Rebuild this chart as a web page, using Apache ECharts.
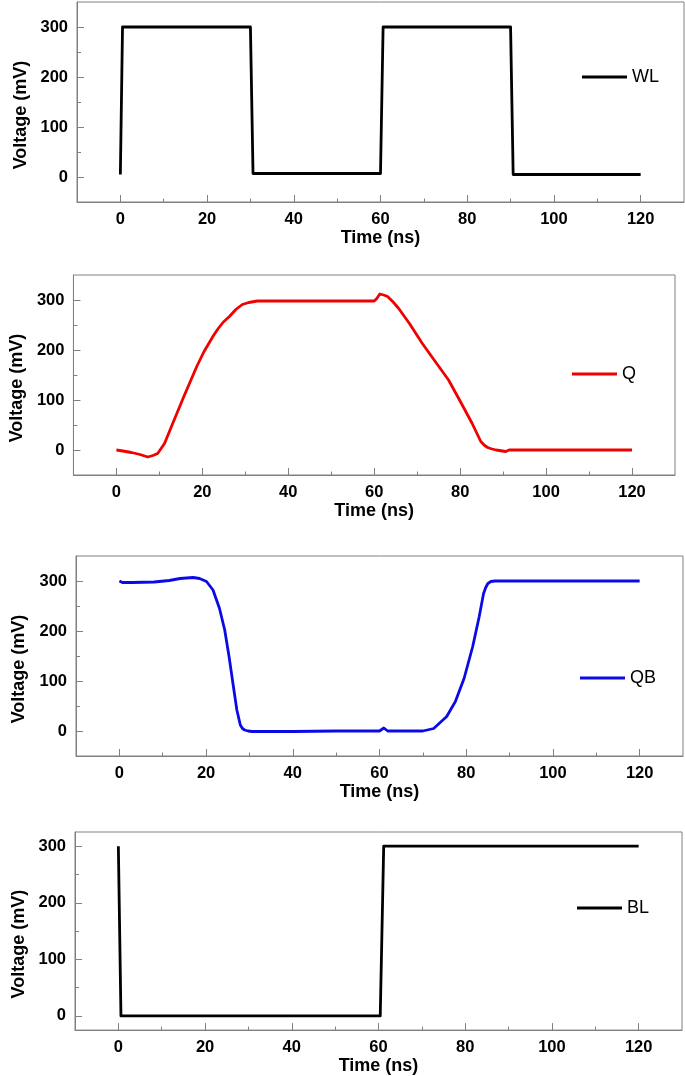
<!DOCTYPE html>
<html><head><meta charset="utf-8">
<script src="https://cdn.jsdelivr.net/npm/echarts@6/dist/echarts.min.js"></script>
<style>html,body{margin:0;padding:0;background:#fff}#c{width:685px;height:1076px}</style>
</head><body><div id="c"></div>
<script>
// ---- data ----
const wlTime = [0, 0.5, 30, 30.6, 60, 60.6, 90, 90.6, 120];
const wlVolt = [5, 300, 300, 7, 7, 300, 300, 5, 5];

const qTime = [0, 1.5, 3.5, 5.5, 7.3, 8.5, 9.6, 11.2, 13.1, 15.7, 18.7, 20.4, 21.5, 22.6, 23.7, 24.9, 26.3, 27.8, 29.3, 30.8, 32.8, 40, 50, 60, 60.6, 61.3, 62.2, 63.1, 64.3, 65.7, 68.2, 71.2, 74.2, 77.3, 80.3, 82.8, 84.8, 85.7, 86.4, 87.4, 88.4, 90.6, 91.4, 100, 120];
const qVolt = [0, -2, -5, -9, -14, -11, -7, 13, 53, 107, 167, 197, 213, 229, 243, 256, 267, 281, 291, 295, 298, 298, 298, 298, 303, 312, 310, 307, 297, 283, 253, 213, 177, 140, 93, 53, 17, 9, 5, 2, 0, -3, 0, 0, 0];

const qbTime = [0, 0.7, 2.9, 8, 11.5, 14, 17, 18.5, 20.1, 21.6, 23.1, 24.3, 25.3, 26.3, 27.1, 27.9, 28.4, 28.9, 29.7, 30.6, 40, 50, 60, 61, 61.9, 70, 72.5, 75.5, 77.5, 79.5, 81.5, 83, 84, 84.5, 85, 85.7, 86.6, 90, 120];
const qbVolt = [300, 297, 297, 298, 301, 305, 307, 305, 299, 282, 245, 202, 149, 89, 42, 12, 5, 2, 0, -1, -1, 0, 0, 6, 0, 0, 5, 29, 59, 105, 169, 229, 275, 287, 295, 299, 300, 300, 300];

const blTime = [0, 0.6, 60.4, 61.2, 120];
const blVolt = [300, 0, 0, 300, 300];

const seriesNames = ['WL', 'Q', 'QB', 'BL'];
const xTickLabels = [0, 20, 40, 60, 80, 100, 120];
const xMinorTicks = [10, 30, 50, 70, 90, 110];
const yTickLabels = [0, 100, 200, 300];
const yMinorTicks = [50, 150, 250];
const xName = 'Time (ns)';
const yName = 'Voltage (mV)';

// ---- layout / style ----
const FONT = 'Liberation Sans, Arial, sans-serif';
const AXIS_COLOR = '#808080';
const panels = [
  {time: wlTime, volt: wlVolt, color: '#000000', left: 77, top: 2,   yMin: -50, yMax: 350, nameGap: 45, legLeft: 582, legY: 77},
  {time: qTime,  volt: qVolt,  color: '#f00000', left: 68, top: 275, yMin: -50, yMax: 350, nameGap: 46, legLeft: 572, legY: 374},
  {time: qbTime, volt: qbVolt, color: '#0a0ae6', left: 76, top: 556, yMin: -50, yMax: 350, nameGap: 48, legLeft: 580, legY: 678},
  {time: blTime, volt: blVolt, color: '#000000', left: 75, top: 832, yMin: -25, yMax: 325, nameGap: 47, legLeft: 577, legY: 908}
];

const grid = [], xAxis = [], yAxis = [], series = [], legend = [];
panels.forEach((p, i) => {
  grid.push({left: p.left, top: p.top, width: 607, height: 200, show: true,
             borderColor: AXIS_COLOR, borderWidth: 1, backgroundColor: 'transparent'});
  const labelStyle = {fontFamily: FONT, fontWeight: 'bold', fontSize: 16.5, color: '#000'};
  // main x axis
  xAxis.push({type: 'value', gridIndex: i, position: 'bottom', min: -10, max: 130,
    name: xName, nameLocation: 'middle', nameGap: 22,
    nameTextStyle: {fontFamily: FONT, fontWeight: 'bold', fontSize: 18, color: '#000'},
    axisLine: {show: true, onZero: false, lineStyle: {color: AXIS_COLOR, width: 1}},
    axisTick: {show: true, inside: true, length: 7, customValues: xTickLabels, lineStyle: {color: AXIS_COLOR}},
    axisLabel: Object.assign({show: true, margin: 9, customValues: xTickLabels}, labelStyle),
    splitLine: {show: false}});
  // minor x ticks
  xAxis.push({type: 'value', gridIndex: i, position: 'bottom', min: -10, max: 130,
    axisLine: {show: false, onZero: false},
    axisTick: {show: true, inside: true, length: 3.5, customValues: xMinorTicks, lineStyle: {color: AXIS_COLOR}},
    axisLabel: {show: false}, splitLine: {show: false}});
  // main y axis
  yAxis.push({type: 'value', gridIndex: i, position: 'left', min: p.yMin, max: p.yMax,
    name: yName, nameLocation: 'middle', nameGap: p.nameGap,
    nameTextStyle: {fontFamily: FONT, fontWeight: 'bold', fontSize: 18, color: '#000', padding: [0, 26, 0, 0]},
    axisLine: {show: true, onZero: false, lineStyle: {color: AXIS_COLOR, width: 1}},
    axisTick: {show: true, inside: true, length: 7, customValues: yTickLabels, lineStyle: {color: AXIS_COLOR}},
    axisLabel: Object.assign({show: true, margin: 9, customValues: yTickLabels}, labelStyle),
    splitLine: {show: false}});
  // minor y ticks
  yAxis.push({type: 'value', gridIndex: i, position: 'left', min: p.yMin, max: p.yMax,
    axisLine: {show: false, onZero: false},
    axisTick: {show: true, inside: true, length: 4, customValues: yMinorTicks, lineStyle: {color: AXIS_COLOR}},
    axisLabel: {show: false}, splitLine: {show: false}});

  series.push({type: 'line', name: seriesNames[i], xAxisIndex: 2 * i, yAxisIndex: 2 * i,
    data: p.time.map((t, k) => [t, p.volt[k]]),
    showSymbol: false, symbol: 'none', smooth: false,
    lineStyle: {color: p.color, width: 2.8, join: 'round'}, itemStyle: {color: p.color},
    emphasis: {disabled: true}});

  legend.push({data: [seriesNames[i]], left: p.legLeft, top: p.legY - 9, padding: 0,
    icon: 'rect', itemWidth: 45, itemHeight: 3, itemGap: 0,
    itemStyle: {borderWidth: 0},
    textStyle: {fontFamily: FONT, fontSize: 18, color: '#000', padding: [0, 0, 0, 0]},
    selectedMode: false});
});

const chart = echarts.init(document.getElementById('c'), null, {renderer: 'canvas'});
chart.setOption({backgroundColor: '#ffffff', animation: false, grid, xAxis, yAxis, series, legend});
</script></body></html>
